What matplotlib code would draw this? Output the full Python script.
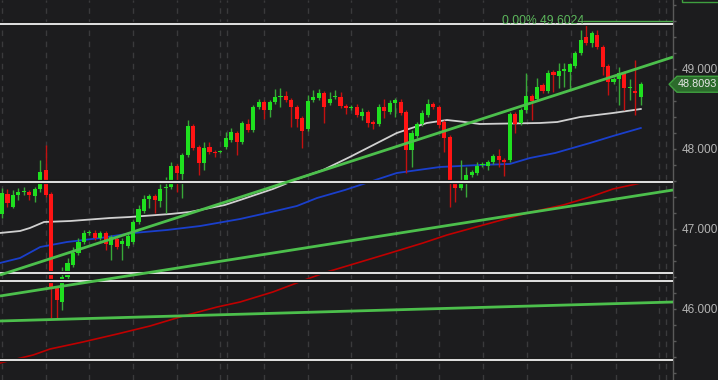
import matplotlib
matplotlib.use('Agg')
import matplotlib.pyplot as plt
import matplotlib.patheffects as pe
from matplotlib.transforms import blended_transform_factory
from matplotlib.ticker import MultipleLocator, FixedLocator
from matplotlib.patches import Polygon, Rectangle
import numpy as np

# ---------------- data ----------------
opens = [47.1875, 47.4375, 47.275, 47.425, 47.4625, 47.4625, 47.4125, 47.5, 47.7375, 47.4375,
         46.2625, 46.0875, 46.40, 46.55, 46.70, 46.8375, 46.95, 46.95, 46.8875, 46.95,
         46.80, 46.875, 46.8125, 46.7875, 46.8375, 47.0875, 47.225, 47.375, 47.4125, 47.35,
         47.5125, 47.525, 47.7875, 47.6875, 47.925, 48.2875, 48.025, 47.825, 48.025, 47.9625,
         47.9625, 48.025, 48.1125, 48.20, 48.0875, 48.3125, 48.2375, 48.525, 48.5875, 48.4875,
         48.5875, 48.65, 48.6625, 48.6125, 48.525, 48.3875, 48.25, 48.6125, 48.6375, 48.70,
         48.575, 48.65, 48.65, 48.5375, 48.5125, 48.525, 48.4125, 48.4625, 48.3375, 48.3125,
         48.525, 48.4625, 48.575, 48.5875, 48.4625, 47.9875, 48.1625, 48.3125, 48.425, 48.5625,
         48.525, 48.3375, 48.15, 47.5875, 47.5125, 47.5875, 47.675, 47.70, 47.80, 47.7875,
         47.8375, 47.9125, 47.8625, 47.8625, 48.4375, 48.325, 48.4875, 48.6625, 48.625, 48.80,
         48.725, 48.9625, 48.9125, 48.975, 48.9625, 49.0375, 49.20, 49.40, 49.325, 49.425,
         49.275, 49.0375, 48.8375, 48.875, 48.95, 48.7625, 48.725, 48.65]
closes = [47.45, 47.325, 47.425, 47.4625, 47.475, 47.425, 47.5, 47.7125, 47.425, 46.275,
          46.1125, 46.40, 46.575, 46.70, 46.8375, 46.95, 46.9625, 46.8875, 46.95, 46.8125,
          46.90, 46.775, 46.85, 46.9125, 47.0875, 47.25, 47.375, 47.4125, 47.3625, 47.50,
          47.525, 47.7875, 47.70, 47.925, 48.2875, 48.0125, 47.825, 48.0125, 47.9625, 47.95,
          47.975, 48.1375, 48.2125, 48.0875, 48.325, 48.2375, 48.525, 48.5875, 48.4875, 48.5875,
          48.65, 48.6625, 48.6125, 48.525, 48.375, 48.225, 48.60, 48.65, 48.70, 48.525,
          48.625, 48.6625, 48.5375, 48.5125, 48.525, 48.425, 48.4625, 48.325, 48.3125, 48.525,
          48.475, 48.575, 48.6125, 48.45, 47.9875, 48.20, 48.3125, 48.45, 48.5625, 48.525,
          48.30, 48.1375, 47.575, 47.5125, 47.6125, 47.675, 47.7125, 47.7875, 47.8125, 47.8375,
          47.9125, 47.8625, 47.8375, 48.4375, 48.3125, 48.4875, 48.6625, 48.60, 48.775, 48.725,
          48.95, 48.925, 48.975, 49.00, 49.0625, 49.20, 49.3625, 49.325, 49.45, 49.275,
          49.025, 48.8375, 48.875, 48.95, 48.7625, 48.775, 48.70, 48.8093]
highs = [47.5125, 47.5, 47.4875, 47.5125, 47.525, 47.4875, 47.525, 47.8625, 48.05, 47.4625,
         46.2875, 46.525, 46.6375, 46.775, 46.8875, 46.9875, 46.9875, 46.9875, 46.975, 46.975,
         46.925, 46.90, 46.8875, 46.9375, 47.1125, 47.30, 47.425, 47.4375, 47.4375, 47.5625,
         47.65, 47.8375, 47.8125, 47.95, 48.3625, 48.3125, 48.05, 48.0875, 48.0875, 47.9875,
         47.9875, 48.2125, 48.2625, 48.225, 48.35, 48.375, 48.55, 48.625, 48.6125, 48.6125,
         48.75, 48.7625, 48.725, 48.6375, 48.55, 48.4125, 48.675, 48.7375, 48.75, 48.725,
         48.7125, 48.7375, 48.7125, 48.5625, 48.55, 48.5625, 48.5125, 48.4875, 48.3625, 48.5625,
         48.625, 48.6125, 48.6375, 48.625, 48.4875, 48.2375, 48.3375, 48.4875, 48.625, 48.5875,
         48.55, 48.3625, 48.175, 47.6125, 47.8625, 47.775, 47.7375, 47.8375, 47.8375, 47.8625,
         47.9375, 48.00, 47.8875, 48.4625, 48.4625, 48.5125, 48.95, 48.6875, 48.8875, 48.825,
         48.9875, 48.9875, 49.075, 49.075, 49.075, 49.225, 49.4875, 49.6024, 49.475, 49.4875,
         49.30, 49.0625, 48.90, 49.025, 48.975, 48.875, 49.1125, 48.8375]
lows = [47.1375, 47.275, 47.2625, 47.3625, 47.425, 47.3625, 47.3375, 47.4625, 47.40, 45.8875,
        45.8875, 45.9875, 46.375, 46.525, 46.675, 46.8125, 46.925, 46.8625, 46.8625, 46.7375,
        46.6125, 46.75, 46.6125, 46.7625, 46.8125, 47.0625, 47.20, 47.2625, 47.20, 47.275,
        47.20, 47.50, 47.4625, 47.3875, 47.90, 47.9875, 47.675, 47.7375, 47.9375, 47.90,
        47.95, 48.00, 48.0875, 47.925, 48.0625, 48.2125, 48.2125, 48.50, 48.375, 48.40,
        48.5625, 48.525, 48.5875, 48.275, 48.275, 48.0125, 48.225, 48.5875, 48.6125, 48.325,
        48.55, 48.625, 48.5125, 48.4375, 48.4875, 48.40, 48.3625, 48.275, 48.25, 48.2875,
        48.3875, 48.4375, 48.40, 48.425, 47.70, 47.775, 48.1375, 48.2875, 48.40, 48.50,
        48.2625, 47.9625, 47.275, 47.3375, 47.4875, 47.40, 47.65, 47.675, 47.775, 47.7375,
        47.8125, 47.775, 47.6625, 47.8375, 48.20, 48.30, 48.45, 48.3625, 48.60, 48.70,
        48.70, 48.7125, 48.7625, 48.775, 48.7375, 49.0125, 49.175, 49.30, 49.275, 49.25,
        48.925, 48.675, 48.8125, 48.55, 48.4875, 48.6125, 48.425, 48.55]

# moving averages (candle index, price)
ma_white_idx = [-0.4, 3.3, 5.1, 7.7, 12.5, 19.8, 23.4, 30.8, 34.4, 40.8, 43.6, 49.6, 54.6,
                58.8, 63.7, 72.3, 77.8, 81.5, 84.5, 87.5, 98.5, 101.7, 105.9, 111.9, 117.0]
ma_white = [46.95, 46.975, 47.0125, 47.0875, 47.10, 47.1375, 47.15, 47.1875, 47.2125, 47.30,
            47.3625, 47.50, 47.6375, 47.7375, 47.90, 48.20, 48.325, 48.3625, 48.34, 48.3125,
            48.325, 48.3375, 48.40, 48.45, 48.50]
ma_blue_idx = [-0.4, 3.3, 7.0, 11.9, 18.0, 24.0, 30.2, 36.3, 43.6, 48.5, 54.0, 57.7, 62.8,
               72.3, 80.2, 87.5, 93.0, 96.7, 101.3, 107.7, 111.9, 117.0]
ma_blue = [46.575, 46.6375, 46.775, 46.8375, 46.8875, 46.95, 46.9875, 47.0375, 47.125, 47.20,
           47.2875, 47.3875, 47.4875, 47.70, 47.775, 47.80, 47.8125, 47.8875, 47.95, 48.075,
           48.1625, 48.2625]
ma_red_idx = [-0.4, 5.7, 8.8, 14.8, 21.1, 27.1, 33.2, 39.4, 43.6, 49.6, 55.9, 59.5, 65.0,
              71.1, 77.1, 81.5, 87.5, 96.2, 102.8, 107.7, 111.9, 117.0]
ma_red = [45.325, 45.425, 45.50, 45.5875, 45.6875, 45.7875, 45.9125, 46.025, 46.0875, 46.2125,
          46.375, 46.4625, 46.575, 46.70, 46.825, 46.925, 47.0375, 47.20, 47.30, 47.40,
          47.50, 47.575]

# trend lines: (start index, start price, end index, end price)
trend_lines = [(-0.37, 46.425, 122.9, 49.15),
               (-0.37, 46.1625, 122.9, 47.4875),
               (-0.37, 45.85, 122.9, 46.0875)]
# horizontal levels
h_levels = [49.5625, 47.584, 46.446, 46.354, 45.3625]
fib_level = 49.6024
fib_text = "0.00% 49.6024"
last_price = 48.8093
y_ticks = [46.0, 47.0, 48.0, 49.0]

# ---------------- styling ----------------
BG = '#1c1c1e'
GREEN_BODY = '#1fe01f'
GREEN_WICK = '#38a838'
RED_BODY = '#ff1414'
RED_WICK = '#c41010'

fig = plt.figure(figsize=(7.18, 3.8), dpi=100, facecolor=BG)
ax = fig.add_axes([0.0, 0.0, 672.7 / 718, 1.0])
ax.set_facecolor(BG)

ax.set_xlim(-0.37, 122.84)
ax.set_ylim(45.1125, 49.8625)

# vertical dashed grid
grid_idx = [0, 8, 16, 24, 32, 40, 41.2, 48, 56, 64, 72.1, 80, 88.1, 96.2, 104.3, 112.5, 120.3, 121.6]
for g in grid_idx:
    ax.axvline(g, color='#3a3a3c', lw=1.0, ls=(0, (4, 4)), zorder=1)

# moving averages
ax.plot(ma_red_idx, ma_red, color='#c00000', lw=1.2, zorder=2)
ax.plot(ma_blue_idx, ma_blue, color='#1a3fcc', lw=1.3, zorder=2)
ax.plot(ma_white_idx, ma_white, color='#d0d0d0', lw=1.3, zorder=2)

# candles
n = len(opens)
x = np.arange(n)
o = np.array(opens); c = np.array(closes); h = np.array(highs); l = np.array(lows)
up = c >= o
wick_colors = [GREEN_WICK if u else RED_WICK for u in up]
body_colors = [GREEN_BODY if u else RED_BODY for u in up]
ax.vlines(x, l, h, colors=wick_colors, lw=1.0, zorder=3)
bottoms = np.minimum(o, c)
heights = np.maximum(np.abs(c - o), 0.018)
ax.bar(x, heights, bottom=bottoms, width=0.75, color=body_colors, linewidth=0, zorder=4)

# horizontal levels (white with dark outline)
for lv in h_levels:
    ax.axhline(lv, color='#dcdcdc', lw=1.6, zorder=5,
               path_effects=[pe.Stroke(linewidth=3.0, foreground='#050505'), pe.Normal()])

# trend lines
for (x0, y0, x1, y1) in trend_lines:
    ax.plot([x0, x1], [y0, y1], color='#4cbf4c', lw=2.0, zorder=6, solid_capstyle='butt')

# fib level
ax.plot([106.6, 122.84], [fib_level, fib_level], color='#4cae4c', lw=1.0, zorder=6)
ax.text(106.6, fib_level, fib_text, ha='right', va='center', color='#5cb85c',
        fontsize=8.7, family='Liberation Sans', zorder=7)

# axes and ticks
for s in ['left', 'top', 'bottom']:
    ax.spines[s].set_visible(False)
ax.spines['right'].set_color('#5a5a5a')
ax.spines['right'].set_linewidth(1.0)
ax.xaxis.set_visible(False)
ax.yaxis.tick_right()
ax.yaxis.set_major_locator(FixedLocator(y_ticks))
ax.yaxis.set_minor_locator(MultipleLocator(0.2))
ax.set_yticklabels([f"{v:.3f}" for v in y_ticks])
ax.tick_params(axis='y', which='both', colors='#5a5a5a', length=2.2, width=1.0,
               labelcolor='#b4b4b4', labelsize=8.5, pad=4.5)
for lab in ax.get_yticklabels():
    lab.set_family('Liberation Sans')

# last price label
tr = blended_transform_factory(ax.transAxes, ax.transData)
p = last_price
poly = Polygon([(0.9945, p), (1.0064, p + 0.1), (1.09, p + 0.1), (1.09, p - 0.1), (1.0064, p - 0.1)],
               closed=True, transform=tr, clip_on=False, facecolor='#2c6b2c',
               edgecolor='#3f9f3f', lw=1.0, zorder=8)
ax.add_patch(poly)
ax.text(1.0078, p, f"{p:.4f}", transform=tr, ha='left', va='center', color='#e8e8e8',
        fontsize=7.8, family='Liberation Sans', clip_on=False, zorder=9)

# partial label box at top right
rect = Rectangle((682.0 / 672.7, 49.84), (740 - 682) / 672.7, 0.3, transform=tr, clip_on=False,
                 facecolor=BG, edgecolor='#3f9f3f', lw=1.0, zorder=8)
ax.add_patch(rect)

fig.savefig('out.png', dpi=100, facecolor=BG)
